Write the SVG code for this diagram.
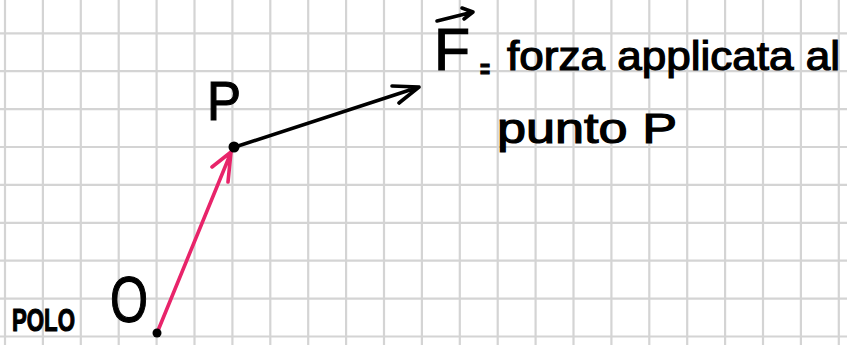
<svg xmlns="http://www.w3.org/2000/svg" width="847" height="345" viewBox="0 0 847 345">
<style>
.grid line{stroke:#d4d4d4;stroke-width:2.2}
.t{font-family:"Liberation Sans","DejaVu Sans",sans-serif;fill:#000;stroke:#000;stroke-width:1.2}
.ink{fill:none;stroke:#000;stroke-width:3.6;stroke-linecap:round;stroke-linejoin:round}
.pink{fill:none;stroke:#e8246a;stroke-width:3.6;stroke-linecap:round;stroke-linejoin:round}
</style>
<rect width="847" height="345" fill="#fff"/>
<g class="grid">
<line x1="5" y1="0" x2="5" y2="345"/><line x1="42.9" y1="0" x2="42.9" y2="345"/><line x1="80.8" y1="0" x2="80.8" y2="345"/><line x1="118.7" y1="0" x2="118.7" y2="345"/><line x1="156.6" y1="0" x2="156.6" y2="345"/><line x1="194.5" y1="0" x2="194.5" y2="345"/><line x1="232.4" y1="0" x2="232.4" y2="345"/><line x1="270.3" y1="0" x2="270.3" y2="345"/><line x1="308.2" y1="0" x2="308.2" y2="345"/><line x1="346.1" y1="0" x2="346.1" y2="345"/><line x1="384" y1="0" x2="384" y2="345"/><line x1="421.9" y1="0" x2="421.9" y2="345"/><line x1="459.8" y1="0" x2="459.8" y2="345"/><line x1="497.7" y1="0" x2="497.7" y2="345"/><line x1="535.6" y1="0" x2="535.6" y2="345"/><line x1="573.5" y1="0" x2="573.5" y2="345"/><line x1="611.4" y1="0" x2="611.4" y2="345"/><line x1="649.3" y1="0" x2="649.3" y2="345"/><line x1="687.2" y1="0" x2="687.2" y2="345"/><line x1="725.1" y1="0" x2="725.1" y2="345"/><line x1="763" y1="0" x2="763" y2="345"/><line x1="800.9" y1="0" x2="800.9" y2="345"/><line x1="838.8" y1="0" x2="838.8" y2="345"/>
<line x1="0" y1="33.3" x2="847" y2="33.3"/><line x1="0" y1="71.2" x2="847" y2="71.2"/><line x1="0" y1="109.1" x2="847" y2="109.1"/><line x1="0" y1="147" x2="847" y2="147"/><line x1="0" y1="184.9" x2="847" y2="184.9"/><line x1="0" y1="222.8" x2="847" y2="222.8"/><line x1="0" y1="260.7" x2="847" y2="260.7"/><line x1="0" y1="298.6" x2="847" y2="298.6"/><line x1="0" y1="336.5" x2="847" y2="336.5"/>
</g>
<g id="connectors">
<path class="pink" d="M157,333 L232,150 M212,167 L231,152 L228,182"/>
<path class="ink" d="M235,147 L419,87 M392,86 L419,87 L399,103"/>
</g>
<g id="node-O">
<circle cx="157" cy="333" r="4.5" fill="#000"/>
<text class="t" x="110" y="322" font-size="64" textLength="38" lengthAdjust="spacingAndGlyphs" stroke-width="0">O</text>
<text class="t" x="12" y="331" font-size="32" font-weight="bold" textLength="63" lengthAdjust="spacingAndGlyphs">POLO</text>
</g>
<g id="node-P">
<circle cx="234" cy="147" r="5.5" fill="#000"/>
<text class="t" x="207" y="120" font-size="55" textLength="34" lengthAdjust="spacingAndGlyphs">P</text>
</g>
<g id="label-F">
<path class="ink" d="M437,21 L473,12 M462,8 L473,12 L464,19"/>
<text class="t" x="434" y="70" font-size="60" textLength="36" lengthAdjust="spacingAndGlyphs">F</text>
<text class="t" x="480" y="78" font-size="26" font-weight="bold" textLength="10" lengthAdjust="spacingAndGlyphs">=</text>
<text class="t" x="507" y="70" font-size="40" textLength="333" lengthAdjust="spacingAndGlyphs">forza applicata al</text>
<text class="t" x="497" y="143" font-size="42" textLength="180" lengthAdjust="spacingAndGlyphs">punto P</text>
</g>
</svg>
